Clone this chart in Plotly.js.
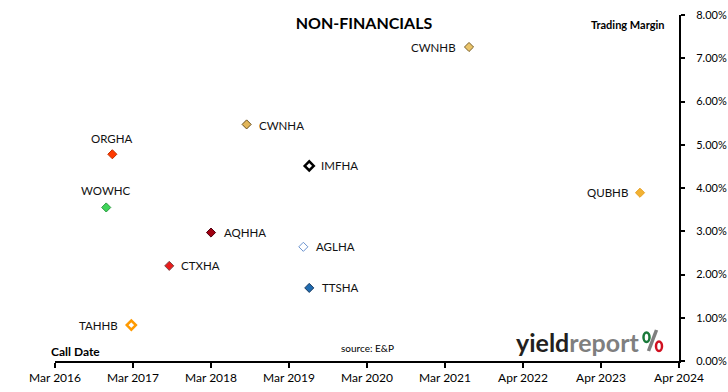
<!DOCTYPE html>
<html>
<head>
<meta charset="utf-8">
<script src="https://cdn.plot.ly/plotly-3.0.1.min.js"></script>
<style>html,body{margin:0;padding:0;background:#fff;}#chart{width:728px;height:392px;}</style>
</head>
<body>
<div id="chart"></div>
<script>
// ---- data ----
const issuers   = ['CWNHB','CWNHA','ORGHA','IMFHA','WOWHC','AQHHA','AGLHA','CTXHA','TTSHA','QUBHB','TAHHB'];
const callDates = ['2021-07-21','2018-08-31','2016-12-02','2019-06-24','2016-11-03','2018-03-15','2019-05-27','2017-08-29','2019-06-24','2023-10-10','2017-03-02'];
const margins   = [7.26, 5.47, 4.78, 4.51, 3.55, 2.97, 2.64, 2.20, 1.69, 3.89, 0.83];
const tickDates = ['2016-03-05','2017-03-10','2018-03-15','2019-03-20','2020-03-24','2021-03-29','2022-04-03','2023-04-08','2024-04-12'];
const tickLabels = ['Mar 2016','Mar 2017','Mar 2018','Mar 2019','Mar 2020','Mar 2021','Apr 2022','Apr 2023','Apr 2024'];

// ---- styles ----
const fillColors = ['#EAC46A','#E2B65A','#FF3A00','#FFFFFF','#3FD45A','#A00010','#FFFFFF','#E81C1C','#1F6BB0','#F2B233','#FFFFFF'];
const lineColors = ['#7A6028','#6A5020','#C03000','#000000','#2A9A40','#500010','#6B93CF','#7A4A4A','#1A3A60','#E8A020','#FF9A00'];
const lineWidths = [1, 1, 1, 2.5, 1, 1, 1, 1, 1, 1, 2.5];
const markerSizes = [7, 7, 7, 7, 7, 7, 7, 7, 7, 7, 7];
// label placement: [xanchor, xshift, yshift]
const labelPos = [
  ['right',-11,0],['left',10,-1],['center',0,16],['left',10,0],['center',0,16.5],
  ['left',11,0],['left',11,0],['left',10,0],['left',11,0],['right',-10,0],['right',-11,0]
];

const FONT = 'Lato, "Open Sans", sans-serif';
const L = 55, R = 49, T = 15, B = 31, W = 728, H = 392;
const pw = W - L - R, ph = H - T - B;
const px = x => (x - L) / pw;
const py = y => (H - B - y) / ph;

const trace = {
  type: 'scatter', mode: 'markers',
  x: callDates, y: margins, text: issuers, hoverinfo: 'text+x+y',
  marker: {symbol: 'diamond', size: markerSizes, color: fillColors, opacity: 1,
           line: {color: lineColors, width: lineWidths}},
  opacity: 1, showlegend: false, cliponaxis: false
};

const annotations = issuers.map((name, i) => ({
  x: callDates[i], y: margins[i], xref: 'x', yref: 'y', text: name, showarrow: false,
  xanchor: labelPos[i][0], yanchor: 'middle', xshift: labelPos[i][1], yshift: labelPos[i][2],
  font: {family: FONT, size: 11.5, color: '#111'}
}));

annotations.push(
  {xref:'paper', yref:'paper', x: px(667), y: py(24), xanchor:'right', yanchor:'middle', showarrow:false,
   text:'<b>Trading Margin</b>', font:{family:FONT, size:11, color:'#000'}},
  {xref:'paper', yref:'paper', x: px(49), y: py(351), xanchor:'left', yanchor:'middle', showarrow:false,
   text:'<b>Call Date</b>', font:{family:FONT, size:12, color:'#000'}},
  {xref:'paper', yref:'paper', x: px(339), y: py(348), xanchor:'left', yanchor:'middle', showarrow:false,
   text:'source: E&amp;P', font:{family:FONT, size:10, color:'#000'}},
  {xref:'paper', yref:'paper', x: px(514), y: py(342), xanchor:'left', yanchor:'middle', showarrow:false,
   text:'<b>yield</b><b><span style="color:#7f7f7f">report</span></b>', font:{family:FONT, size:25, color:'#231f20'}}
);

const shapes = [
  {type:'line', xref:'paper', yref:'paper', x0:px(648.5), y0:py(351), x1:px(656.5), y1:py(330),
   line:{color:'#7f7f7f', width:3.5}},
  {type:'circle', xref:'paper', yref:'paper', x0:px(643.5), x1:px(649.5), y0:py(342), y1:py(332.5),
   line:{color:'#1a7a3a', width:2.5}},
  {type:'circle', xref:'paper', yref:'paper', x0:px(656), x1:px(662), y0:py(351), y1:py(341.5),
   line:{color:'#d01020', width:2.5}}
];

const layout = {
  width: W, height: H,
  margin: {l: L, r: R, t: T, b: B, pad: 0},
  paper_bgcolor: '#fff', plot_bgcolor: '#fff',
  font: {family: FONT, size: 12, color: '#000'},
  title: {text: '<b>NON-FINANCIALS</b>', x: 364 / W, xref: 'container', xanchor: 'center',
          y: 1 - 23 / H, yref: 'container', yanchor: 'middle',
          font: {family: FONT, size: 16, color: '#000'}},
  xaxis: {type: 'date', range: [tickDates[0], tickDates[tickDates.length - 1]],
          tickmode: 'array', tickvals: tickDates, ticktext: tickLabels,
          showline: true, linecolor: '#000', linewidth: 2, mirror: false,
          ticks: 'outside', ticklen: 5, tickwidth: 2, tickcolor: '#000',
          showgrid: false, zeroline: false, tickfont: {family: FONT, size: 12, color: '#000'}},
  yaxis: {side: 'right', range: [0, 8], dtick: 1, tick0: 0, tickformat: '.2f', ticksuffix: '%',
          showline: true, linecolor: '#000', linewidth: 2,
          ticks: 'outside', ticklen: 4, tickwidth: 2, tickcolor: '#000', ticklabelstandoff: 9,
          showgrid: false, zeroline: false, tickfont: {family: FONT, size: 11, color: '#000'}},
  annotations: annotations,
  shapes: shapes
};

Plotly.newPlot('chart', [trace], layout, {displayModeBar: false, staticPlot: true});
</script>
</body>
</html>
